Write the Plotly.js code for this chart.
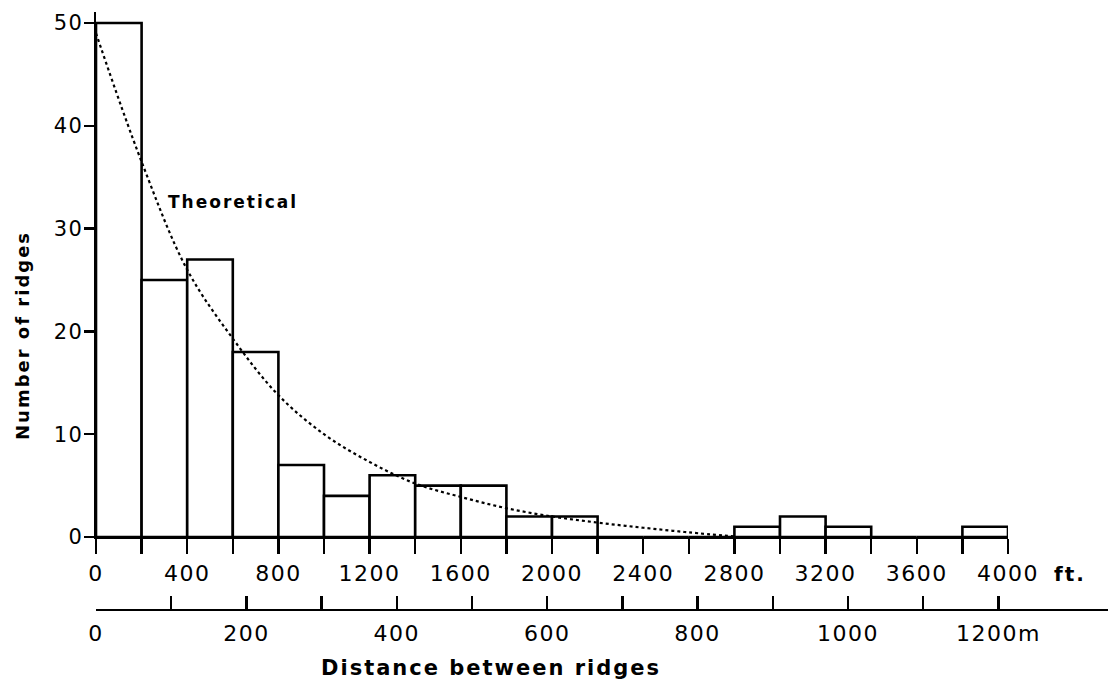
<!DOCTYPE html>
<html>
<head>
<meta charset="utf-8">
<script src="https://cdn.plot.ly/plotly-3.0.1.min.js"></script>
<style>
  html, body { margin: 0; padding: 0; background: #fff; }
  #chart { width: 1108px; height: 682px; }
  .xtick text, .x2tick text { letter-spacing: 1.5px; }
  .ytick text { letter-spacing: 1.5px; }
  .annotation-text { letter-spacing: 2px; }
</style>
</head>
<body>
<div id="chart"></div>
<script>
// ---- data ----
const binStartFt = [0, 200, 400, 600, 800, 1000, 1200, 1400, 1600, 1800,
                    2000, 2200, 2400, 2600, 2800, 3000, 3200, 3400, 3600, 3800];
const binWidthFt = 200;
const ridgeCounts = [50, 25, 27, 18, 7, 4, 6, 5, 5, 2,
                     2, 0, 0, 0, 1, 2, 1, 0, 0, 1];

const theoryFt    = [0, 200, 400, 600, 800, 1000, 1200, 1400, 1600, 1800, 2000, 2200, 2400, 2600, 2800];
const theoryCount = [49, 36.5, 26, 19.3, 13.8, 10, 7.3, 5.2, 3.9, 2.8, 2.0, 1.4, 0.9, 0.45, 0.05];

const ftTickVals = [0, 200, 400, 600, 800, 1000, 1200, 1400, 1600, 1800, 2000,
                    2200, 2400, 2600, 2800, 3000, 3200, 3400, 3600, 3800, 4000];
const ftTickText = ['0', '', '400', '', '800', '', '1200', '', '1600', '', '2000',
                    '', '2400', '', '2800', '', '3200', '', '3600', '', '4000'];
const mTickVals = [0, 100, 200, 300, 400, 500, 600, 700, 800, 900, 1000, 1100, 1200];
const mTickText = ['0', '', '200', '', '400', '', '600', '', '800', '', '1000', '', '1200m'];
const yTickVals = [0, 10, 20, 30, 40, 50];

// ---- traces ----
const barCenters = binStartFt.map(s => s + binWidthFt / 2);
const bars = {
  type: 'bar',
  x: barCenters,
  y: ridgeCounts,
  width: binWidthFt,
  marker: { color: '#ffffff', line: { color: '#000000', width: 2.6 } },
  xaxis: 'x', yaxis: 'y',
  hoverinfo: 'x+y',
  showlegend: false
};
const theory = {
  type: 'scatter',
  mode: 'lines',
  x: theoryFt,
  y: theoryCount,
  line: { color: '#000000', width: 2.2, dash: 'dot', shape: 'spline' },
  xaxis: 'x', yaxis: 'y',
  showlegend: false
};
const metreHolder = {
  type: 'scatter', mode: 'markers',
  x: mTickVals, y: mTickVals.map(() => null),
  xaxis: 'x2', yaxis: 'y',
  hoverinfo: 'skip', showlegend: false
};

const FONT = 'DejaVu Sans, Liberation Sans, sans-serif';
const L = 96, T = 12, B = 72, W = 1108, H = 682;
const plotW = W - L;          // 1012
const plotH = H - T - B;      // 598
const ftEndPx = 1008;
const yZeroPx = 537;

const layout = {
  width: W, height: H,
  margin: { l: L, r: 0, t: T, b: B },
  paper_bgcolor: '#ffffff',
  plot_bgcolor: 'rgba(0,0,0,0)',
  font: { family: FONT, color: '#000000', size: 22 },
  bargap: 0,
  showlegend: false,
  xaxis: {
    domain: [0, (ftEndPx - L) / plotW],
    range: [0, 4000],
    anchor: 'y',
    showgrid: false, zeroline: false,
    showline: true, linecolor: '#000', linewidth: 2.4,
    ticks: 'outside', ticklen: 15, tickwidth: 2.4, tickcolor: '#000',
    tickmode: 'array', tickvals: ftTickVals, ticktext: ftTickText,
    tickfont: { family: FONT, size: 22, color: '#000' },
    ticklabelstandoff: 0
  },
  xaxis2: {
    domain: [0, 1],
    range: [0, plotW / 0.752],
    anchor: 'free', position: 0,
    showgrid: false, zeroline: false,
    showline: true, linecolor: '#000', linewidth: 2.4,
    ticks: 'inside', ticklen: 13, tickwidth: 2.4, tickcolor: '#000',
    tickmode: 'array', tickvals: mTickVals, ticktext: mTickText,
    tickfont: { family: FONT, size: 22, color: '#000' },
    ticklabelstandoff: 3
  },
  yaxis: {
    domain: [(H - B - yZeroPx) / plotH, 1],
    range: [0, (yZeroPx - T) / ((yZeroPx - 23) / 50)],
    anchor: 'x',
    showgrid: false, zeroline: false,
    showline: true, linecolor: '#000', linewidth: 2.4,
    ticks: 'outside', ticklen: 10, tickwidth: 2.4, tickcolor: '#000',
    tickmode: 'array', tickvals: yTickVals,
    tickfont: { family: FONT, size: 21, color: '#000' },
    ticklabelstandoff: -4
  },
  annotations: [
    { text: 'Theoretical', x: 307, y: 32.6, xref: 'x', yref: 'y',
      xanchor: 'left', yanchor: 'middle', showarrow: false,
      font: { family: FONT, size: 17, color: '#000', weight: 'bold' } },
    { text: 'ft.', x: 4000, y: ((H - B) - 574) / plotH, xref: 'x', yref: 'paper', xshift: 44,
      xanchor: 'left', yanchor: 'middle', showarrow: false,
      font: { family: FONT, size: 20, color: '#000', weight: 'bold' } },
    { text: 'Distance between ridges', x: (491 - L) / plotW, y: -(668 - (H - B)) / plotH,
      xref: 'paper', yref: 'paper', xanchor: 'center', yanchor: 'middle', showarrow: false,
      font: { family: FONT, size: 21, color: '#000', weight: 'bold' } },
    { text: 'Number of ridges', x: (22 - L) / plotW, y: ((H - B) - 336) / plotH,
      xref: 'paper', yref: 'paper', xanchor: 'center', yanchor: 'middle', showarrow: false,
      textangle: -90,
      font: { family: FONT, size: 18, color: '#000', weight: 'bold' } }
  ]
};

Plotly.newPlot('chart', [bars, theory, metreHolder], layout, { displayModeBar: false, staticPlot: true });
</script>
</body>
</html>
